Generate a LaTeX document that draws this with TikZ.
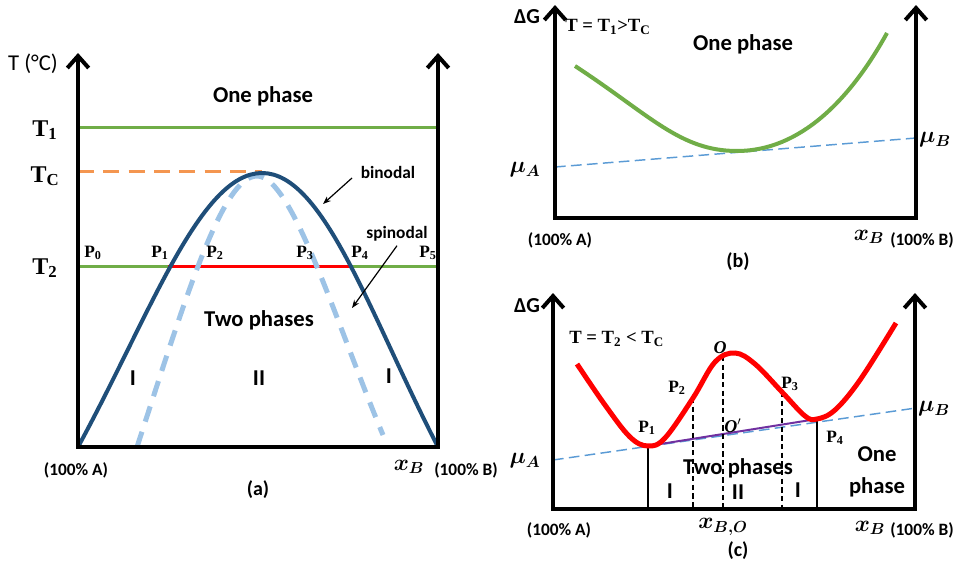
\documentclass[tikz,border=0pt]{standalone}
\usepackage{fontspec}
\usepackage{bm}
\setmainfont{Carlito}
\newfontfamily\serifbf{Liberation Serif}
\usetikzlibrary{
    arrows.meta,
    positioning,
    calc
  }
\definecolor{binodalcolor}{RGB}{31,78,121}
\definecolor{spinodalcolor}{RGB}{157,195,230}
\definecolor{isocolor}{RGB}{112,173,71}
\definecolor{critcolor}{RGB}{244,150,80}
\definecolor{tangentcolor}{RGB}{91,155,213}
\definecolor{chordcolor}{RGB}{112,48,160}
\tikzset{
  axis/.style={line width=3pt,line join=miter,{Straight Barb[length=9pt,width=16pt]}-{Straight Barb[length=9pt,width=16pt]}},
  txt/.style={font=\bfseries\fontsize{17}{19}\selectfont,inner sep=0pt},
  smalltxt/.style={font=\bfseries\fontsize{13}{15}\selectfont,inner sep=0pt},
  sublbl/.style={font=\bfseries\fontsize{15}{17}\selectfont,inner sep=0pt},
  templbl/.style={font=\serifbf\bfseries\fontsize{18}{20}\selectfont,inner sep=0pt},
  plbl/.style={font=\serifbf\bfseries\fontsize{13}{15}\selectfont,inner sep=0pt},
  mathlbl/.style={font=\fontsize{17}{19}\selectfont,inner sep=0pt},
  tangent/.style={draw=tangentcolor,line width=1.1pt,dash pattern=on 8pt off 4pt},
  guide/.style={draw,line width=0.8pt,dash pattern=on 4pt off 2.5pt}
}

\begin{document}
\begin{tikzpicture}[x=0.75pt, y=-0.75pt]
\useasboundingbox (0,0) rectangle (954,571);

% (a) phase diagram
\path[draw,isocolor,line width=2.25pt]
  (78,127) coordinate (t1_left) -- (438,127) coordinate (t1_right)
;
\path[draw,critcolor,line width=2.25pt,dash pattern=on 12pt off 7pt]
  (78,171) coordinate (tc_left) -- (262,171) coordinate (tc_right)
;
\path[draw,isocolor,line width=2.25pt]
  (78,266) coordinate (t2_left) -- (438,266) coordinate (t2_right)
;
\path[draw,red,line width=2.25pt]
  (168,266) coordinate (p1_a) -- (352,266) coordinate (p4_a)
;
\path[draw,spinodalcolor,line width=3.75pt,dash pattern=on 12pt off 8pt]
  (137,447) .. controls (185,300) and (222,176) .. (257,176)
    .. controls (292,176) and (335,320) .. (383,435)
;
\path[draw,binodalcolor,line width=3pt]
  (78,447) coordinate (bin_left) .. controls (150,315) and (200,173) .. (262,173) coordinate (bin_top)
    .. controls (324,173) and (370,315) .. (438,447) coordinate (bin_right)
;
\path[draw,axis]
  (78,53) coordinate (a_top_left) -- (78,447) coordinate (a_origin)
    -- (438,447) coordinate (a_end) -- (438,53) coordinate (a_top_right)
;

\node[txt,font=\fontsize{17}{19}\selectfont] (a_ylabel) at (33,64) {T (°C)};
\node[txt] (a_one) at (263,96) {One phase};
\node[templbl] (a_t1) at (45,130) {T\textsubscript{1}};
\node[templbl] (a_tc) at (45,176) {T\textsubscript{C}};
\node[templbl] (a_t2) at (45,268) {T\textsubscript{2}};
\node[plbl] (a_p0) at (93,253) {P\textsubscript{0}};
\node[plbl] (a_p1) at (160,253) {P\textsubscript{1}};
\node[plbl] (a_p2) at (215,253) {P\textsubscript{2}};
\node[plbl] (a_p3) at (305,253) {P\textsubscript{3}};
\node[plbl] (a_p4) at (360,253) {P\textsubscript{4}};
\node[plbl] (a_p5) at (428,253) {P\textsubscript{5}};
\node[smalltxt] (a_binodal) at (388,172) {binodal};
\node[smalltxt] (a_spinodal) at (397,234) {spinodal};
\coordinate (binodal_tip) at (323,204);
\coordinate (spinodal_tip) at (352,308);
\path[draw,line width=0.9pt,-{Stealth[length=6pt,width=4.5pt]}]
  (352,178) -- (binodal_tip)
;
\path[draw,line width=0.9pt,-{Stealth[length=6pt,width=4.5pt]}]
  (a_spinodal.south) ++(0,4) -- (spinodal_tip)
;
\node[txt] (a_two) at (259,320) {Two phases};
\node[txt] (a_reg1) at (133,378) {I};
\node[txt] (a_reg2) at (259,378) {II};
\node[txt] (a_reg3) at (389,376) {I};
\node[smalltxt] (a_pureA) at (76,470) {(100\% A)};
\node[mathlbl] (a_xb) at (409,467) {$\bm{x_B}$};
\node[smalltxt] (a_pureB) at (466,470) {(100\% B)};
\node[sublbl] (a_caption) at (258,490) {(a)};

% (b) T1 above Tc
\path[draw,tangent]
  (555,167) coordinate (b_mua) -- (916,138) coordinate (b_mub)
;
\path[draw,isocolor,line width=3pt]
  (575,66) .. controls (650,115) and (680,151) .. (737,151)
    .. controls (800,151) and (850,100) .. (887,33)
;
\path[draw,axis]
  (555,5) coordinate (b_top_left) -- (555,218) coordinate (b_origin)
    -- (916,218) coordinate (b_end) -- (916,5) coordinate (b_top_right)
;
\node[txt,font=\bfseries\fontsize{16}{18}\selectfont] (b_ylabel) at (527,17) {ΔG};
\node[plbl,anchor=west,font=\serifbf\bfseries\fontsize{14}{16}\selectfont] (b_temp) at (565,27) {T = T\textsubscript{1}>T\textsubscript{C}};
\node[txt] (b_one) at (743,44) {One phase};
\node[mathlbl] (b_mua_lbl) at (525,170) {$\bm{\mu_A}$};
\node[mathlbl] (b_mub_lbl) at (935,140) {$\bm{\mu_B}$};
\node[smalltxt] (b_pureA) at (560,240) {(100\% A)};
\node[mathlbl] (b_xb) at (869,237) {$\bm{x_B}$};
\node[smalltxt] (b_pureB) at (922,240) {(100\% B)};
\node[sublbl] (b_caption) at (738,262) {(b)};

% (c) T2 below Tc
\path[draw,tangent]
  (553,460) coordinate (c_mua) -- (916,408) coordinate (c_mub)
;
\coordinate (c_p1) at (648,446);
\coordinate (c_p2) at (693,398);
\coordinate (c_o) at (723,356);
\coordinate (c_p3) at (782,392);
\coordinate (c_p4) at (817,419);
\coordinate (c_base1) at (648,509);
\coordinate (c_base2) at (693,509);
\coordinate (c_baseo) at (723,509);
\coordinate (c_base3) at (782,509);
\coordinate (c_base4) at (817,509);
\path[draw,chordcolor,line width=1.5pt]
  (c_p1) -- (c_p4)
;
\path[draw,line width=0.8pt] (c_p1) -- (c_base1);
\path[draw,line width=0.8pt] (c_p4) -- (c_base4);
\path[guide] (c_p2) -- (c_base2);
\path[guide] (c_o) -- (c_baseo);
\path[guide] (c_p3) -- (c_base3);
\path[draw,red,line width=3.75pt]
  plot[smooth,tension=0.6] coordinates {
    (577,364) (605,405) (630,437) (648,446) (665,438) (693,398)
    (715,362) (735,353) (755,364) (782,392) (805,416) (817,419)
    (835,410) (860,380) (896,323)
  }
;
\path[draw,axis]
  (553,293) coordinate (c_top_left) -- (553,509) coordinate (c_origin)
    -- (915,509) coordinate (c_end) -- (915,293) coordinate (c_top_right)
;
\node[txt,font=\bfseries\fontsize{16}{18}\selectfont] (c_ylabel) at (527,306) {ΔG};
\node[plbl,anchor=west,font=\serifbf\bfseries\fontsize{14}{16}\selectfont] (c_temp) at (569,339) {T = T\textsubscript{2} < T\textsubscript{C}};
\node[plbl,font=\serifbf\bfseries\itshape\fontsize{13.5}{15}\selectfont] (c_o_lbl) at (720,348) {O};
\node[plbl,font=\serifbf\bfseries\itshape\fontsize{13.5}{15}\selectfont] (c_oprime_lbl) at (733,426) {O$'$};
\node[plbl] (c_p1_lbl) at (647,428) {P\textsubscript{1}};
\node[plbl] (c_p2_lbl) at (677,388) {P\textsubscript{2}};
\node[plbl] (c_p3_lbl) at (790,384) {P\textsubscript{3}};
\node[plbl] (c_p4_lbl) at (835,438) {P\textsubscript{4}};
\node[mathlbl] (c_mua_lbl) at (525,461) {$\bm{\mu_A}$};
\node[mathlbl] (c_mub_lbl) at (934,409) {$\bm{\mu_B}$};
\node[txt] (c_two) at (738,468) {Two phases};
\node[txt] (c_reg1) at (670,491) {I};
\node[txt] (c_reg2) at (738,492) {II};
\node[txt] (c_reg3) at (798,490) {I};
\node[txt,align=center,font=\bfseries\fontsize{17}{24}\selectfont] (c_one) at (877,472) {One\\phase};
\node[smalltxt] (c_pureA) at (559,530) {(100\% A)};
\node[mathlbl] (c_xbo) at (723,527) {$\bm{x_{B,O}}$};
\node[mathlbl] (c_xb) at (870,528) {$\bm{x_B}$};
\node[smalltxt] (c_pureB) at (922,530) {(100\% B)};
\node[sublbl] (c_caption) at (738,551) {(c)};

\end{tikzpicture}
\end{document}
